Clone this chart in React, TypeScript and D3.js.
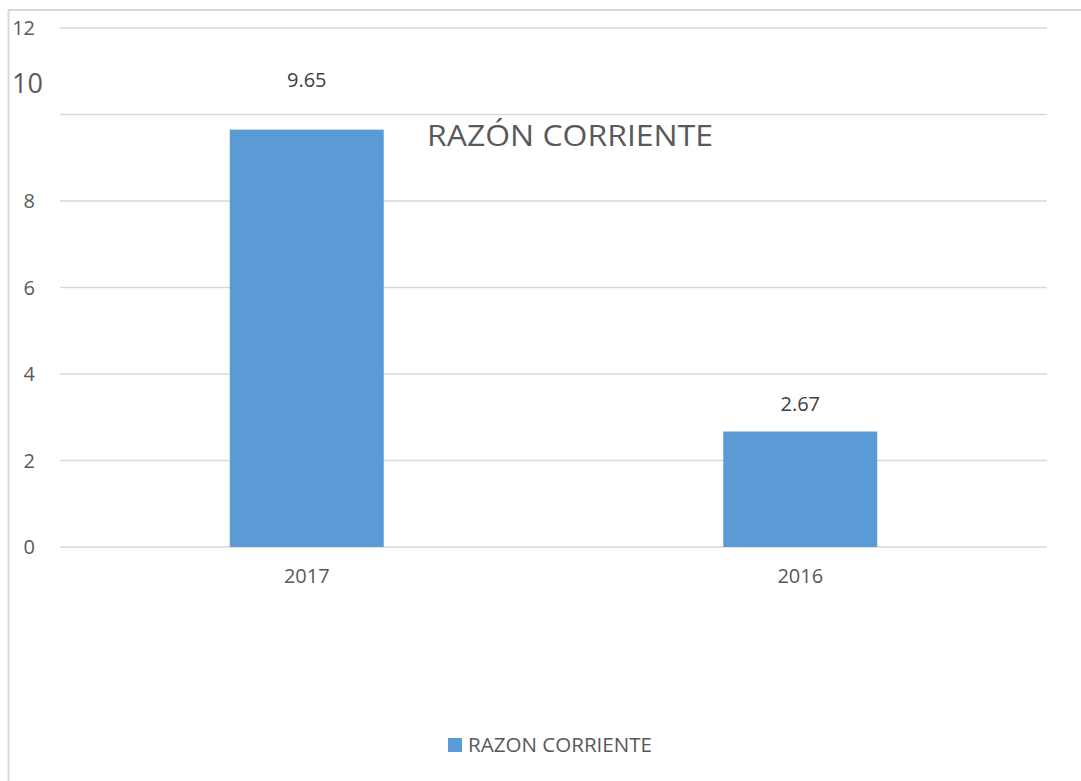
import React from "react";
import * as d3 from "d3";

const categories = ["2017", "2016"];
const values = [9.65, 2.67];
const valueLabels = ["9.65", "2.67"];
const yTicks = [0, 2, 4, 6, 8, 10, 12];
const seriesName = "RAZON CORRIENTE";
const titleText = "RAZÓN CORRIENTE";

const W = 1081;
const H = 781;
const FONT = "'Open Sans', 'Noto Sans', sans-serif";

export default function App() {
  const plotLeft = 60;
  const plotRight = 1047;
  const y = d3.scaleLinear().domain([0, 12]).range([547, 28]);
  const x = d3
    .scaleBand<string>()
    .domain(categories)
    .range([plotLeft, plotRight])
    .paddingInner(0.688)
    .paddingOuter(0.344);

  // label gap above each bar (the reference places them unevenly)
  const labelGap = (i: number) => (i === 0 ? 43 : 21);

  return (
    <svg
      width={W}
      height={H}
      style={{ position: "absolute", left: 0, top: 0, background: "#fff" }}
      fontFamily={FONT}
    >
      <rect x={0} y={0} width={W} height={H} fill="#fff" />
      {/* chart border (top and left visible) */}
      <line x1={8.5} x2={8.5} y1={10} y2={H} stroke="#d9d9d9" strokeWidth={2} />
      <line x1={8} x2={W} y1={10} y2={10} stroke="#d9d9d9" strokeWidth={2} />

      {/* gridlines */}
      {yTicks.map((t) => (
        <line
          key={"g" + t}
          x1={plotLeft}
          x2={plotRight}
          y1={y(t)}
          y2={y(t)}
          stroke="#d9d9d9"
          strokeWidth={1.5}
        />
      ))}

      {/* y tick labels */}
      {yTicks.map((t) =>
        t === 10 ? (
          <text
            key={"t" + t}
            x={12}
            y={y(t) - 22}
            fontSize={27}
            fill="#595959"
          >
            {t}
          </text>
        ) : (
          <text
            key={"t" + t}
            x={35}
            y={y(t) + 7}
            fontSize={20}
            fill="#595959"
            textAnchor="end"
          >
            {t}
          </text>
        )
      )}

      {/* bars */}
      {categories.map((c, i) => (
        <rect
          key={"b" + c}
          x={x(c)!}
          y={y(values[i])}
          width={x.bandwidth()}
          height={y(0) - y(values[i])}
          fill="#5b9bd5"
        />
      ))}

      {/* data labels */}
      {categories.map((c, i) => (
        <text
          key={"l" + c}
          x={x(c)! + x.bandwidth() / 2}
          y={y(values[i]) - labelGap(i)}
          fontSize={20}
          fill="#404040"
          textAnchor="middle"
        >
          {valueLabels[i]}
        </text>
      ))}

      {/* category labels */}
      {categories.map((c) => (
        <text
          key={"c" + c}
          x={x(c)! + x.bandwidth() / 2}
          y={583}
          fontSize={20}
          fill="#595959"
          textAnchor="middle"
        >
          {c}
        </text>
      ))}

      {/* title */}
      <text x={427} y={146} fontSize={30} fill="#595959" textLength={286} lengthAdjust="spacingAndGlyphs">
        {titleText}
      </text>

      {/* legend */}
      <rect x={448} y={738} width={14} height={14} fill="#5b9bd5" />
      <text x={468} y={752} fontSize={20} fill="#595959" textLength={184} lengthAdjust="spacingAndGlyphs">
        {seriesName}
      </text>
    </svg>
  );
}
